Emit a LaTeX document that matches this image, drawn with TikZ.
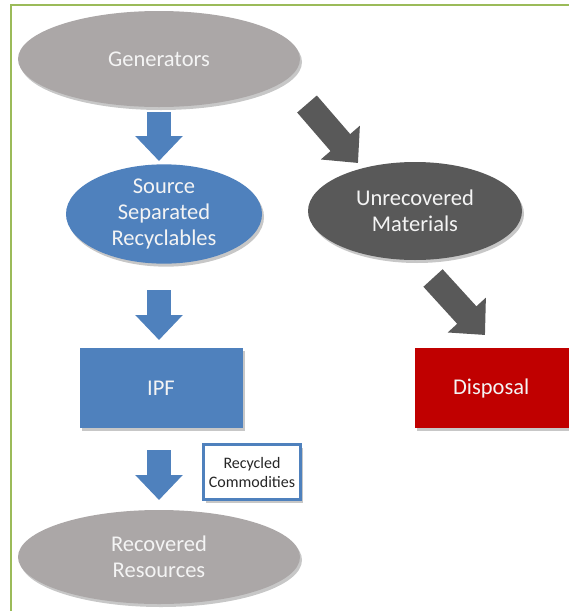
\documentclass[tikz,border=0pt]{standalone}
\usepackage{fontspec}
\setmainfont{Carlito}
\usetikzlibrary{shapes.geometric,arrows.meta,shadows}
\definecolor{frameGreen}{HTML}{9BBB59}
\definecolor{shapeGray}{HTML}{ABA7A7}
\definecolor{darkGray}{HTML}{595959}
\definecolor{officeBlue}{HTML}{4F81BD}
\definecolor{deepRed}{HTML}{C00000}
\definecolor{lightText}{HTML}{F4F4F4}
\tikzset{
  soft/.style={drop shadow={shadow xshift=2pt,shadow yshift=-3pt,opacity=.22,fill=black}},
  oval/.style={ellipse,draw=none,soft,text=lightText,font=\fontsize{22.5}{26}\selectfont,align=center,inner sep=0pt},
  block/.style={rectangle,draw=none,soft,text=lightText,font=\fontsize{22.5}{26}\selectfont,inner sep=0pt},
  labelbox/.style={rectangle,draw=officeBlue,line width=3pt,fill=white,soft,text=black!85,font=\fontsize{16}{19}\selectfont,align=center,inner sep=0pt},
  bluearrow/.style={officeBlue,line width=24pt,-{Triangle[length=25pt,width=46pt]}},
  grayarrow/.style={darkGray,line width=26pt,-{Triangle[length=27pt,width=50pt]}},
}
\begin{document}
\begin{tikzpicture}[x=1pt,y=-1pt]
\useasboundingbox (0,0) rectangle (569,611);
\fill[white] (0,0) rectangle (569,611);
% outer frame: top and left edges only
\draw[frameGreen,line width=2pt] (11,611) -- (11,5) -- (569,5);

% nodes
\node[oval,fill=shapeGray,minimum width=282pt,minimum height=96pt] (gen) at (159,59) {Generators};
\node[oval,fill=officeBlue,minimum width=196pt,minimum height=98pt] (ssr) at (164,214) {Source\\Separated\\Recyclables};
\node[oval,fill=darkGray,minimum width=214pt,minimum height=98pt] (um) at (415,211) {Unrecovered\\Materials};
\node[block,fill=officeBlue,minimum width=163pt,minimum height=80pt] (ipf) at (161,388) {IPF};
\node[block,fill=deepRed,minimum width=160pt,minimum height=80pt,anchor=west] (disp) at (415,388) {\hspace*{-8pt}Disposal};
\node[labelbox,minimum width=97pt,minimum height=55pt] (rc) at (252,472) {Recycled\\Commodities};
\node[oval,fill=shapeGray,minimum width=282pt,minimum height=94pt] (rr) at (159,557) {Recovered\\Resources};

% arrow end points
\coordinate (a1s) at (159,112);
\coordinate (a1e) at (159,161);
\coordinate (a2s) at (159,290);
\coordinate (a2e) at (159,340);
\coordinate (a3s) at (159,450);
\coordinate (a3e) at (159,500);
\coordinate (g1s) at (307,104);
\coordinate (g1e) at (358,163);
\coordinate (g2s) at (433,278);
\coordinate (g2e) at (485,335);

% connectors
\draw[bluearrow] (a1s) -- (a1e);
\draw[bluearrow] (a2s) -- (a2e);
\draw[bluearrow] (a3s) -- (a3e);
\draw[grayarrow] (g1s) -- (g1e);
\draw[grayarrow] (g2s) -- (g2e);
\end{tikzpicture}
\end{document}
